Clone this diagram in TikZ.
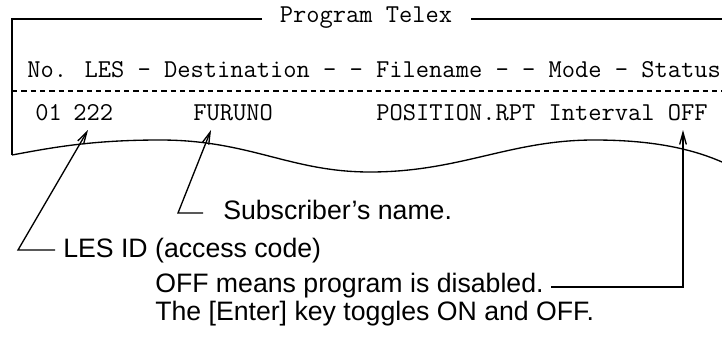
\documentclass[tikz,border=0pt]{standalone}
\usepackage{fontspec}
\setmainfont{Liberation Sans}
\usetikzlibrary{arrows.meta}
\begin{document}
\begin{tikzpicture}[x=0.75pt,y=-0.75pt,
  ln/.style={line width=1pt,black},
  mono/.style={font=\ttfamily\fontsize{19.3pt}{20pt}\selectfont,inner sep=0pt,anchor=base west},
  lbl/.style={font=\fontsize{20pt}{22pt}\selectfont,inner sep=0pt,anchor=base west},
  arr/.style={ln,-{Straight Barb[length=9pt,width=5pt,line width=1pt]}}]
\useasboundingbox (0,0) rectangle (722,343);
% frame
\node[mono,anchor=base] (title) at (366,22) {Program Telex};
\coordinate (tl) at (12,19);
\coordinate (tr) at (722,19);
\draw[ln] (262,19) -- (tl) -- (12,155);
\draw[ln] (471,19) -- (tr);
% header
\node[mono] (hdr) at (27,77) {No. LES - Destination - - Filename - - Mode - Status};
\draw[line width=0.8pt,dash pattern=on 4pt off 3pt] (12,91) -- (722,91);
% row
\node[mono] (no) at (35,120) {01};
\node[mono] (les) at (73,120) {222};
\node[mono] (dest) at (193,120) {FURUNO};
\node[mono] (rest) at (376,120) {POSITION.RPT Interval OFF};
% wavy edge
\draw[ln] (12,155) .. controls (50,148) and (90,140) .. (160,140)
  .. controls (250,140) and (290,172) .. (370,172)
  .. controls (460,172) and (510,140) .. (594,140)
  .. controls (650,140) and (690,148) .. (722,162);
% labels
\node[lbl] (sub) at (223,219) {Subscriber’s name.};
\node[lbl] (lesid) at (63,257) {LES ID (access code)};
\node[lbl] (off) at (155,292) {OFF means program is disabled.};
\node[lbl] (ent) at (155,320) {The [Enter] key toggles ON and OFF.};
% arrow tips and corners
\coordinate (t1) at (88,130);
\coordinate (c1) at (18,250);
\coordinate (t2) at (211,130);
\coordinate (c2) at (178,213);
\coordinate (t3) at (683,130);
\coordinate (c3) at (683,287);
\draw[arr] (55,250) -- (c1) -- (t1);
\draw[arr] (203,213) -- (c2) -- (t2);
\draw[arr] (551,287) -- (c3) -- (t3);
\end{tikzpicture}
\end{document}
